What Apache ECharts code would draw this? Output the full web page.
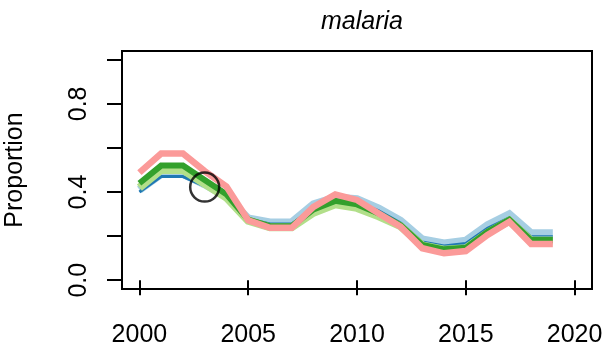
<!DOCTYPE html>
<html>
<head>
<meta charset="utf-8">
<script src="https://cdn.jsdelivr.net/npm/echarts@6/dist/echarts.min.js"></script>
<style>
html,body{margin:0;padding:0;background:#fff;}
#chart{width:607px;height:356px;}
</style>
</head>
<body>
<div id="chart"></div>
<script>
const years = [2000,2001,2002,2003,2004,2005,2006,2007,2008,2009,2010,2011,2012,2013,2014,2015,2016,2017,2018,2019];
const lightBlue = [0.41,0.482,0.482,0.435,0.38,0.28,0.262,0.262,0.344,0.375,0.368,0.325,0.27,0.185,0.167,0.179,0.25,0.299,0.213,0.213];
const darkBlue = [0.40,0.47,0.47,0.427,0.375,0.278,0.255,0.255,0.325,0.365,0.355,0.315,0.26,0.173,0.155,0.167,0.235,0.283,0.197,0.197];
const lightGreen = [0.42,0.50,0.50,0.437,0.375,0.27,0.24,0.24,0.306,0.344,0.328,0.29,0.245,0.158,0.138,0.145,0.215,0.27,0.18,0.18];
const darkGreen = [0.44,0.52,0.52,0.455,0.39,0.275,0.245,0.245,0.321,0.36,0.344,0.303,0.25,0.16,0.14,0.147,0.22,0.275,0.182,0.182];
const pink = [0.488,0.575,0.575,0.495,0.425,0.272,0.238,0.238,0.333,0.389,0.364,0.303,0.243,0.145,0.122,0.132,0.205,0.265,0.164,0.164];
const marker = [[2003, 0.4225]];
const xTicks = [2000,2005,2010,2015,2020];
const yTicks = [0,0.2,0.4,0.6,0.8,1.0];
const yLabels = [0,0.4,0.8];

const FONT = 'Liberation Sans, Arial, sans-serif';
function pairs(vals){ return years.map((y,i)=>[y, vals[i]]); }
function line(name, vals, color, width){
  return {name, type:'line', data:pairs(vals), symbol:'none', showSymbol:false,
    lineStyle:{color, width, cap:'butt', join:'miter'}, itemStyle:{color}, silent:true};
}

const chart = echarts.init(document.getElementById('chart'), null, {renderer:'canvas'});
chart.setOption({
  animation:false,
  backgroundColor:'#fff',
  title:{text:'malaria', left:357, top:5, textAlign:'center',
    textStyle:{fontFamily:FONT, fontSize:25, fontStyle:'italic', fontWeight:'normal', color:'#000'}},
  grid:{left:122, right:15, top:51, bottom:67, containLabel:false, outerBoundsMode:'none',
    show:true, borderColor:'#000', borderWidth:2, backgroundColor:'transparent'},
  xAxis:{type:'value', min:1999.2, max:2020.8,
    axisLine:{show:false},
    axisTick:{show:true, length:15, lineStyle:{color:'#000', width:2}, customValues:xTicks},
    axisLabel:{show:true, margin:34, fontFamily:FONT, fontSize:25, color:'#000', customValues:xTicks,
      formatter:v=>String(v)},
    splitLine:{show:false}},
  yAxis:{type:'value', min:-0.04, max:1.04,
    name:'Proportion', nameLocation:'middle', nameGap:94, nameRotate:90,
    nameTextStyle:{fontFamily:FONT, fontSize:25, color:'#000'},
    axisLine:{show:false},
    axisTick:{show:true, length:15, lineStyle:{color:'#000', width:2}, customValues:yTicks},
    axisLabel:{show:true, rotate:90, margin:30, fontFamily:FONT, fontSize:25, color:'#000', customValues:yLabels,
      formatter:v=>Number(v).toFixed(1)},
    splitLine:{show:false}},
  series:[
    line('lightBlue', lightBlue, '#a6cee3', 8),
    line('darkBlue', darkBlue, '#1f78b4', 3),
    line('lightGreen', lightGreen, '#b2df8a', 8),
    line('darkGreen', darkGreen, '#33a02c', 6),
    line('pink', pink, '#fb9a99', 6.5),
    {name:'marker', type:'scatter', data:marker, symbol:'circle', symbolSize:29, silent:true,
      itemStyle:{color:'rgba(0,0,0,0)', borderColor:'#000', borderWidth:2.5}, z:10}
  ]
});
</script>
</body>
</html>
